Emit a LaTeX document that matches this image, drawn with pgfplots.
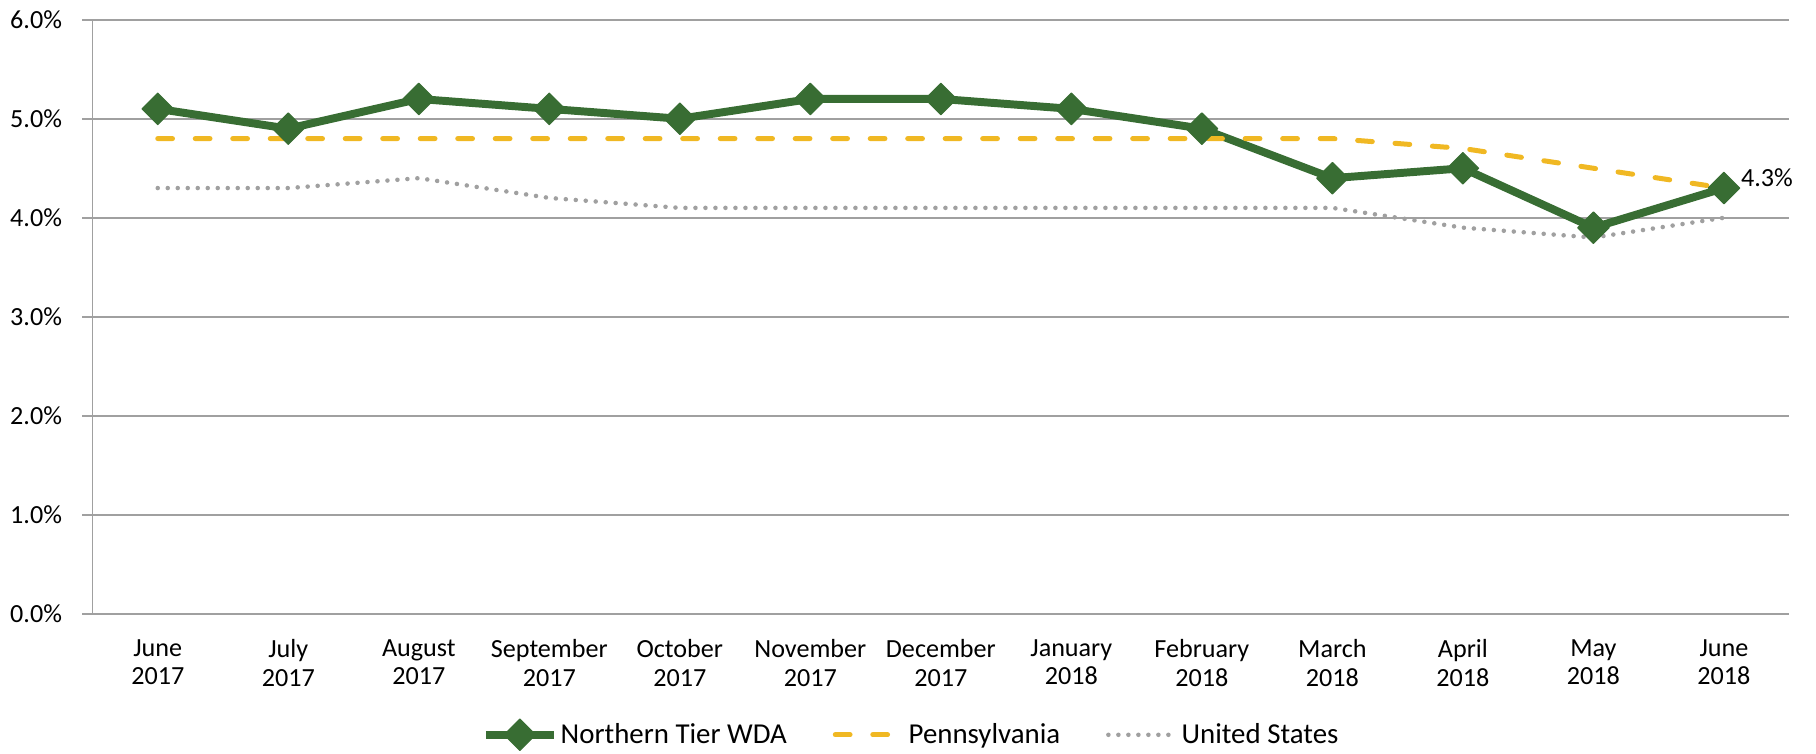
\documentclass[border=0pt]{standalone}
\usepackage{fontspec}
\setmainfont{Carlito}
\usepackage{pgfplots}
\pgfplotsset{compat=1.18}

\definecolor{ntgreen}{HTML}{386D33}
\definecolor{pagold}{HTML}{F0B823}
\definecolor{usgray}{HTML}{A0A0A0}
\definecolor{gridgray}{HTML}{A0A0A0}

\newcommand{\chartfont}{\fontsize{11.5pt}{12.4pt}\selectfont}
\newcommand{\legendfont}{\fontsize{12.7pt}{14pt}\selectfont}

\begin{document}
\begin{tikzpicture}
\begin{axis}[
  name=ax,
  scale only axis,
  width=746.6pt,
  height=261.4pt,
  xmin=-0.5, xmax=12.5,
  ymin=0, ymax=6,
  axis x line*=bottom,
  axis y line*=left,
  axis line style={gridgray, line width=0.7pt},
  xtick={0,...,12},
  xticklabels={{June\\2017},{July\\2017},{August\\2017},{September\\2017},
    {October\\2017},{November\\2017},{December\\2017},{January\\2018},
    {February\\2018},{March\\2018},{April\\2018},{May\\2018},{June\\2018}},
  xtick style={draw=none},
  minor xtick={-0.5,0.5,...,12.5},
  minor tick length=4.2pt,
  minor tick style={gridgray, line width=0.7pt},
  ytick={0,1,...,6},
  yticklabels={0.0\%,1.0\%,2.0\%,3.0\%,4.0\%,5.0\%,6.0\%},
  ytick style={gridgray, line width=0.7pt},
  major tick length=4.4pt,
  tick align=outside,
  ymajorgrids,
  grid style={gridgray, line width=0.7pt},
  x tick label style={font=\chartfont, align=center, yshift=-3.5pt},
  y tick label style={font=\chartfont, xshift=-5.5pt},
  legend columns=3,
  legend style={at={(0.4827,-0.2037)}, anchor=center, draw=none, fill=none,
    font=\legendfont, nodes={inner xsep=1.2pt},
    /tikz/every even column/.append style={column sep=19pt}},
  legend image code/.code={
    \draw[mark repeat=2, mark phase=2, #1]
      plot coordinates {(0pt,0pt) (15pt,0pt) (30pt,0pt)};},
  clip=false,
]
\addplot[ntgreen, line width=3.5pt, line join=round,
  mark=square*, mark size=4.9pt,
  mark options={rotate=45, solid, line width=0.5pt, fill=ntgreen}]
  coordinates {(0,5.1) (1,4.9) (2,5.2) (3,5.1) (4,5.0) (5,5.2) (6,5.2)
               (7,5.1) (8,4.9) (9,4.4) (10,4.5) (11,3.9) (12,4.3)};
\addlegendentry{Northern Tier WDA}
\addplot[pagold, line width=2.2pt, line cap=round,
  dash pattern=on 6.5pt off 10pt]
  coordinates {(0,4.8) (1,4.8) (2,4.8) (3,4.8) (4,4.8) (5,4.8) (6,4.8)
               (7,4.8) (8,4.8) (9,4.8) (10,4.7) (11,4.5) (12,4.3)};
\addlegendentry{Pennsylvania}
\addplot[usgray, line width=2pt, line cap=round,
  dash pattern=on 0pt off 4.4pt]
  coordinates {(0,4.3) (1,4.3) (2,4.4) (3,4.2) (4,4.1) (5,4.1) (6,4.1)
               (7,4.1) (8,4.1) (9,4.1) (10,3.9) (11,3.8) (12,4.0)};
\addlegendentry{United States}
\node[anchor=west, font=\chartfont, xshift=4pt, yshift=4.4pt]
  at (axis cs:12,4.3) {4.3\%};
\end{axis}
\pgfresetboundingbox
\path[use as bounding box]
  ([shift={(-40.7pt,-61.3pt)}]ax.south west)
  rectangle ([shift={(11.8pt,8.7pt)}]ax.north east);
\end{tikzpicture}
\end{document}
